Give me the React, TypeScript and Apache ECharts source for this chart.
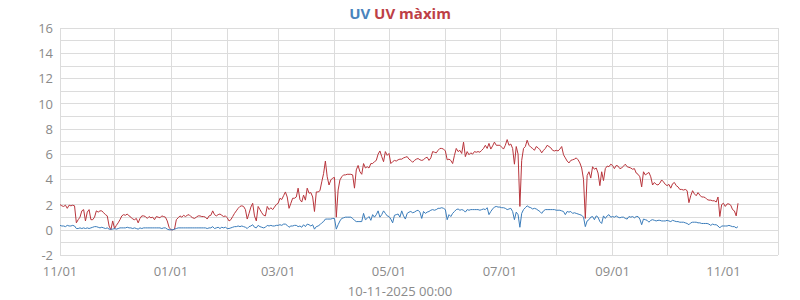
import React, { useEffect, useRef } from 'react';
import * as echarts from 'echarts';

// Axis span: one category per day, 2024-11-01 .. 2025-12-01
const MONTH_KEYS = ['2024-11', '2024-12', '2025-01', '2025-02', '2025-03', '2025-04', '2025-05', '2025-06', '2025-07', '2025-08', '2025-09', '2025-10', '2025-11'];
const MONTH_DAYS = [30, 31, 31, 28, 31, 30, 31, 30, 31, 31, 30, 31, 30];
const AXIS_END = '2025-12-01';
const LABEL_MONTHS = ['11', '01', '03', '05', '07', '09'];
const Y_TICKS_SHOWN = [-2, 0, 2, 4, 6, 8, 10, 12, 14, 16];
const TITLE_UV = 'UV';
const TITLE_UVMAX = 'UV màxim';
const FOOTER = '10-11-2025 00:00';

// UV màxim (daily)
const MAX_NOV24 = [2.0, 1.9, 1.85, 1.95, 1.7, 1.95, 1.9, 1.95, 1.9, 0.55, 0.8, 1.0, 1.5, 1.6, 0.7, 1.4, 1.6, 0.8, 0.8, 1.0, 1.5, 1.4, 1.5, 1.5, 1.35, 1.2, 1.1, 0.3, 0.0, 0.7];
const MAX_DEC24 = [0.1, 0.35, 0.55, 0.8, 1.1, 1.2, 1.15, 1.25, 1.1, 1.0, 0.85, 0.8, 0.9, 0.55, 0.9, 1.1, 1.1, 1.05, 0.9, 1.05, 0.95, 1.0, 0.8, 1.05, 1.0, 0.95, 1.1, 1.05, 1.0, 0.7, 0.2];
const MAX_JAN25 = [0.0, 0.0, 0.05, 0.8, 0.95, 1.1, 1.0, 1.15, 1.05, 1.15, 1.2, 1.05, 0.95, 0.9, 1.0, 1.1, 1.1, 1.05, 1.05, 1.0, 0.85, 1.1, 1.15, 1.5, 1.2, 1.1, 1.2, 1.25, 1.15, 1.05, 1.1];
const MAX_FEB25 = [0.95, 0.7, 0.8, 1.05, 1.3, 1.5, 1.7, 1.85, 1.9, 1.85, 1.6, 0.85, 1.3, 1.8, 2.1, 1.1, 0.7, 1.85, 1.6, 1.35, 1.15, 1.1, 1.85, 1.6, 1.75, 1.6, 1.8, 2.0];
const MAX_MAR25 = [2.1, 2.5, 2.4, 2.7, 3.0, 2.6, 1.7, 2.1, 2.5, 2.5, 2.6, 3.3, 2.4, 2.2, 2.75, 2.35, 3.3, 2.9, 2.95, 2.6, 1.45, 3.0, 3.0, 3.1, 3.8, 4.45, 5.45, 4.2, 3.55, 3.95, 4.1];
const MAX_APR25 = [4.15, 1.0, 3.15, 3.95, 4.2, 4.35, 4.35, 4.4, 4.4, 4.4, 4.35, 3.3, 4.75, 5.1, 4.6, 4.4, 5.25, 4.9, 5.0, 4.9, 5.25, 5.25, 5.4, 5.5, 6.0, 6.25, 5.8, 5.4, 6.2, 5.9];
const MAX_MAY25 = [6.05, 5.25, 5.4, 5.5, 5.45, 5.55, 5.6, 5.6, 5.7, 5.75, 5.8, 5.6, 5.5, 5.35, 5.5, 5.6, 5.65, 5.55, 5.5, 5.55, 5.7, 5.75, 5.5, 5.7, 6.2, 6.15, 6.1, 6.3, 6.45, 6.45, 6.4];
const MAX_JUN25 = [6.25, 5.55, 5.6, 5.5, 5.25, 5.9, 6.45, 6.2, 6.3, 6.05, 6.95, 5.8, 6.2, 5.95, 6.1, 6.0, 6.2, 6.15, 6.2, 6.15, 6.3, 6.45, 6.7, 6.45, 6.85, 6.4, 6.65, 6.95, 6.7, 6.7];
const MAX_JUL25 = [6.7, 6.55, 6.4, 6.7, 7.15, 6.7, 6.8, 6.45, 5.2, 6.6, 6.0, 1.85, 5.5, 6.45, 6.6, 7.1, 6.7, 6.55, 6.45, 6.3, 6.6, 6.5, 6.35, 6.1, 6.3, 6.45, 6.7, 6.6, 6.5, 6.3, 6.25];
const MAX_AUG25 = [6.3, 6.25, 6.4, 6.6, 5.95, 5.7, 5.45, 5.3, 5.5, 5.55, 5.6, 5.7, 5.55, 5.3, 4.9, 4.0, 0.9, 4.3, 4.6, 4.1, 5.0, 4.8, 4.9, 4.5, 3.5, 4.6, 3.9, 4.85, 5.05, 5.0, 5.2];
const MAX_SEP25 = [5.1, 4.85, 5.1, 5.05, 4.85, 4.9, 5.05, 5.2, 5.0, 4.95, 4.9, 4.8, 4.85, 4.5, 4.4, 4.2, 3.4, 4.6, 4.35, 4.45, 4.55, 4.2, 3.55, 3.75, 3.6, 3.55, 3.7, 3.95, 3.8, 3.6];
const MAX_OCT25 = [3.5, 3.6, 3.3, 3.65, 3.75, 3.5, 3.4, 3.2, 3.2, 3.15, 3.2, 3.1, 2.15, 2.7, 3.1, 2.85, 2.7, 2.95, 2.75, 2.6, 2.6, 2.55, 2.4, 2.35, 2.35, 2.3, 2.3, 2.2, 2.6, 1.05, 2.0];
const MAX_NOV25 = [2.1, 1.85, 2.05, 2.05, 1.95, 1.6, 1.5, 1.1, 2.1];

// UV (daily)
const UV_NOV24 = [0.35, 0.3, 0.3, 0.25, 0.35, 0.3, 0.3, 0.35, 0.3, 0.1, 0.1, 0.15, 0.1, 0.15, 0.1, 0.15, 0.1, 0.15, 0.2, 0.25, 0.25, 0.2, 0.15, 0.2, 0.15, 0.1, 0.15, 0.05, 0.05, 0.05];
const UV_DEC24 = [0.1, 0.05, 0.1, 0.15, 0.15, 0.15, 0.15, 0.2, 0.15, 0.15, 0.1, 0.15, 0.1, 0.05, 0.15, 0.1, 0.15, 0.15, 0.15, 0.15, 0.15, 0.15, 0.15, 0.15, 0.15, 0.15, 0.1, 0.15, 0.15, 0.05, 0.0];
const UV_JAN25 = [0, 0, 0.05, 0.1, 0.15, 0.15, 0.15, 0.15, 0.15, 0.15, 0.15, 0.15, 0.15, 0.15, 0.15, 0.15, 0.15, 0.15, 0.15, 0.15, 0.1, 0.15, 0.15, 0.25, 0.1, 0.15, 0.2, 0.1, 0.2, 0.15, 0.2];
const UV_FEB25 = [0.1, 0.1, 0.15, 0.2, 0.25, 0.25, 0.3, 0.25, 0.3, 0.25, 0.2, 0.1, 0.25, 0.3, 0.4, 0.2, 0.15, 0.35, 0.25, 0.2, 0.15, 0.2, 0.35, 0.3, 0.35, 0.3, 0.3, 0.35];
const UV_MAR25 = [0.35, 0.4, 0.35, 0.45, 0.45, 0.35, 0.2, 0.3, 0.3, 0.35, 0.35, 0.25, 0.3, 0.2, 0.4, 0.25, 0.45, 0.4, 0.3, 0.4, 0.05, 0.25, 0.3, 0.4, 0.55, 0.65, 0.85, 0.85, 0.85, 0.85, 0.9];
const UV_APR25 = [0.9, 0.05, 0.4, 0.7, 0.9, 0.95, 1.0, 1.0, 1.0, 1.0, 0.9, 0.75, 0.65, 0.65, 0.65, 0.65, 1.3, 0.8, 0.9, 1.05, 0.75, 1.2, 1.0, 1.2, 1.5, 1.0, 1.2, 1.5, 1.3, 1.1];
const UV_MAY25 = [1.05, 0.85, 0.55, 1.15, 1.2, 1.25, 1.0, 1.5, 1.1, 0.85, 1.3, 1.4, 1.45, 1.35, 1.4, 1.5, 1.55, 1.4, 0.9, 1.45, 1.3, 1.4, 1.45, 1.55, 1.6, 1.55, 1.6, 1.7, 1.7, 1.75, 1.7];
const UV_JUN25 = [1.6, 0.8, 1.2, 1.05, 1.3, 1.45, 1.6, 1.65, 1.55, 1.6, 1.55, 1.4, 1.6, 1.55, 1.6, 1.6, 1.6, 1.6, 1.6, 1.55, 1.6, 1.65, 1.6, 1.75, 1.2, 1.45, 1.65, 1.8, 1.85, 1.8];
const UV_JUL25 = [1.8, 1.75, 1.75, 1.7, 1.6, 1.65, 1.7, 1.45, 0.8, 1.4, 1.2, 0.2, 1.3, 1.6, 1.75, 1.9, 1.8, 1.75, 1.65, 1.7, 1.65, 1.55, 1.45, 1.3, 1.5, 1.6, 1.6, 1.6, 1.6, 1.6, 1.6];
const UV_AUG25 = [1.55, 1.55, 1.55, 1.5, 1.45, 1.2, 1.45, 1.4, 1.45, 1.3, 1.35, 1.3, 1.25, 1.2, 1.15, 1.0, 0.25, 0.7, 0.8, 1.0, 1.05, 0.8, 1.1, 1.0, 0.65, 0.5, 1.1, 0.9, 1.1, 1.2, 1.0];
const UV_SEP25 = [1.05, 1.0, 1.1, 1.0, 0.95, 1.0, 1.0, 0.9, 0.85, 1.05, 1.0, 1.05, 0.95, 1.05, 1.05, 0.85, 0.4, 0.85, 0.8, 0.75, 0.6, 0.75, 0.8, 0.75, 0.7, 0.75, 0.75, 0.7, 0.7, 0.7];
const UV_OCT25 = [0.75, 0.7, 0.65, 0.75, 0.7, 0.65, 0.65, 0.6, 0.6, 0.6, 0.55, 0.5, 0.4, 0.55, 0.6, 0.6, 0.6, 0.55, 0.55, 0.5, 0.5, 0.5, 0.5, 0.45, 0.35, 0.45, 0.4, 0.4, 0.3, 0.15, 0.3];
const UV_NOV25 = [0.3, 0.3, 0.3, 0.35, 0.3, 0.25, 0.25, 0.15, 0.25];

const UV_MAX = [MAX_NOV24, MAX_DEC24, MAX_JAN25, MAX_FEB25, MAX_MAR25, MAX_APR25, MAX_MAY25, MAX_JUN25, MAX_JUL25, MAX_AUG25, MAX_SEP25, MAX_OCT25, MAX_NOV25].flat();
const UV = [UV_NOV24, UV_DEC24, UV_JAN25, UV_FEB25, UV_MAR25, UV_APR25, UV_MAY25, UV_JUN25, UV_JUL25, UV_AUG25, UV_SEP25, UV_OCT25, UV_NOV25].flat();

const CATEGORIES: string[] = [];
MONTH_KEYS.forEach((m, i) => {
  for (let d = 1; d <= MONTH_DAYS[i]; d++) CATEGORIES.push(`${m}-${String(d).padStart(2, '0')}`);
});
CATEGORIES.push(AXIS_END);

const BLUE = '#3a7cba';
const RED = '#b8353c';
const GRID = '#dcdcdc';
const TEXT = '#8a8a8a';
const FONT = '"Open Sans", "Noto Sans", sans-serif';

export default function App() {
  const ref = useRef<HTMLDivElement>(null);
  useEffect(() => {
    if (!ref.current) return;
    const chart = echarts.init(ref.current, null, { renderer: 'svg' });
    const isMonthStart = (v: string) => v.endsWith('-01');
    chart.setOption({
      animation: false,
      backgroundColor: '#fff',
      textStyle: { fontFamily: FONT },
      title: {
        left: 'center',
        top: 0,
        text: `{a|${TITLE_UV}} {b|${TITLE_UVMAX}}`,
        textStyle: {
          fontFamily: FONT,
          fontSize: 15,
          fontWeight: 'bold',
          rich: {
            a: { color: '#4a84bd', fontSize: 15, fontWeight: 'bold', fontFamily: FONT },
            b: { color: '#bd3f46', fontSize: 15, fontWeight: 'bold', fontFamily: FONT },
          },
        },
      },
      graphic: [
        {
          type: 'text',
          left: 'center',
          top: 284,
          style: { text: FOOTER, fill: TEXT, font: `13px ${FONT}` },
        },
      ],
      grid: { left: 60, right: 22, top: 28, bottom: 45, containLabel: false },
      xAxis: {
        type: 'category',
        data: CATEGORIES,
        boundaryGap: false,
        axisLine: { show: false },
        axisTick: { show: false },
        splitLine: {
          show: true,
          interval: (_i: number, v: string) => isMonthStart(v),
          lineStyle: { color: GRID, width: 1 },
        },
        axisLabel: {
          interval: (_i: number, v: string) =>
            isMonthStart(v) && v !== AXIS_END && LABEL_MONTHS.includes(v.slice(5, 7)),
          formatter: (v: string) => `${v.slice(5, 7)}/${v.slice(8, 10)}`,
          color: TEXT,
          fontSize: 13,
          lineHeight: 12,
          fontFamily: FONT,
          margin: 10,
        },
      },
      yAxis: {
        type: 'value',
        min: -2,
        max: 16,
        interval: 1,
        axisLine: { show: false },
        axisTick: { show: false },
        splitLine: { show: true, lineStyle: { color: GRID, width: 1 } },
        axisLabel: {
          formatter: (v: number) => (Y_TICKS_SHOWN.includes(v) ? String(v) : ''),
          color: TEXT,
          fontSize: 13,
          lineHeight: 12,
          fontFamily: FONT,
          margin: 7,
        },
      },
      series: [
        {
          name: TITLE_UVMAX,
          type: 'line',
          data: UV_MAX,
          showSymbol: false,
          lineStyle: { color: RED, width: 1 },
          itemStyle: { color: RED },
        },
        {
          name: TITLE_UV,
          type: 'line',
          data: UV,
          showSymbol: false,
          lineStyle: { color: BLUE, width: 1 },
          itemStyle: { color: BLUE },
        },
      ],
    });
    return () => chart.dispose();
  }, []);
  return <div ref={ref} style={{ position: 'fixed', left: 0, top: 0, width: 800, height: 300 }} />;
}
